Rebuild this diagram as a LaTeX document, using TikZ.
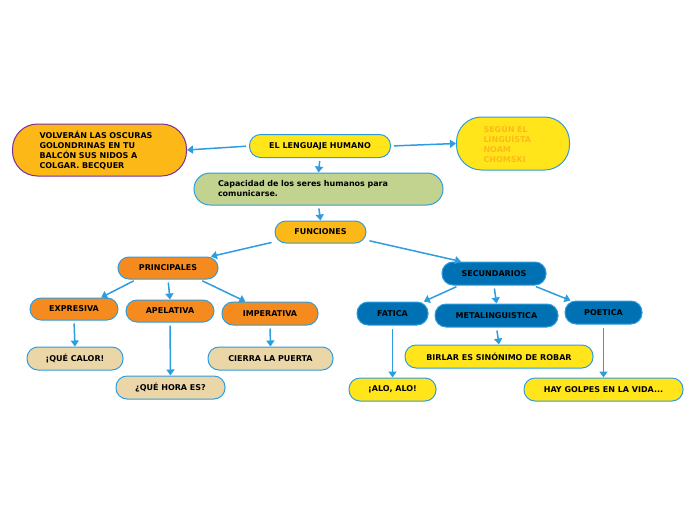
\documentclass[tikz,border=0pt]{standalone}
\usepackage{fontspec}
\setmainfont{DejaVu Sans}
\usetikzlibrary{arrows.meta,positioning}
\definecolor{linkblue}{HTML}{2E9DE0}
\definecolor{goldfill}{HTML}{FCB817}
\definecolor{orangefill}{HTML}{F58B1F}
\definecolor{bluefill}{HTML}{0071B2}
\definecolor{yellowfill}{HTML}{FFE51A}
\definecolor{beigefill}{HTML}{EBD6A8}
\definecolor{greenfill}{HTML}{C2D390}
\definecolor{purpleline}{HTML}{7A2E9E}
\definecolor{softorange}{HTML}{FFB81C}

\begin{document}
\begin{tikzpicture}[x=1pt, y=-1pt,
    every node/.style={font=\fontsize{8}{10}\selectfont\bfseries},
    idea/.style={draw=linkblue, line width=1pt, rounded corners=11pt, minimum height=23pt, inner xsep=6pt},
    big/.style={idea, rounded corners=25pt, align=left, inner xsep=27pt},
    link/.style={draw=linkblue, line width=1.5pt, shorten <=3pt, -{Triangle[width=8pt,length=6pt]}}]
    \useasboundingbox (0,0) rectangle (696,520);

    % central nodes
    \node [idea, fill=yellowfill, minimum width=141pt] (humano) at (320,146) {EL LENGUAJE HUMANO};
    \node [big, fill=goldfill, draw=purpleline, text width=120pt, minimum height=52pt] (volveran) at (99.5,150)
        {VOLVERÁN LAS OSCURAS\\GOLONDRINAS EN TU\\BALCÓN SUS NIDOS A\\COLGAR. BECQUER};
    \node [big, fill=yellowfill, text=softorange, text width=59pt, minimum height=53pt] (segun) at (513,143.5)
        {SEGÚN EL\\LINGUÍSTA\\NOAM\\CHOMSKI};
    \node [big, fill=greenfill, rounded corners=16pt, inner xsep=24pt, text width=201pt, minimum height=32pt] (capacidad) at (318.5,189)
        {Capacidad de los seres humanos para\\comunicarse.};
    \node [idea, fill=goldfill, minimum width=91pt, minimum height=22pt] (funciones) at (320.5,232) {FUNCIONES};

    % principales
    \node [idea, fill=orangefill, minimum width=100pt, minimum height=22pt] (principales) at (168,268) {PRINCIPALES};
    \node [idea, fill=orangefill, minimum width=88pt, minimum height=22pt] (expresiva) at (74,309) {EXPRESIVA};
    \node [idea, fill=orangefill, minimum width=88pt, minimum height=22pt] (apelativa) at (170,311) {APELATIVA};
    \node [idea, fill=orangefill, minimum width=96pt] (imperativa) at (270,313.5) {IMPERATIVA};
    \node [idea, fill=beigefill, minimum width=96pt] (calor) at (75,358.5) {¡QUÉ CALOR!};
    \node [idea, fill=beigefill, minimum width=125pt] (puerta) at (270.5,358.5) {CIERRA LA PUERTA};
    \node [idea, fill=beigefill, minimum width=109pt] (hora) at (170.5,387.5) {¿QUÉ HORA ES?};

    % secundarios
    \node [idea, fill=bluefill, minimum width=104pt] (secundarios) at (494,273.5) {SECUNDARIOS};
    \node [idea, fill=bluefill, minimum width=71pt] (fatica) at (392.5,313.5) {FATICA};
    \node [idea, fill=bluefill, minimum width=123pt] (metaling) at (496.5,315.5) {METALINGUISTICA};
    \node [idea, fill=bluefill, minimum width=77pt] (poetica) at (603.5,312.5) {POETICA};
    \node [idea, fill=yellowfill, minimum width=188pt] (birlar) at (499,356.5) {BIRLAR ES SINÓNIMO DE ROBAR};
    \node [idea, fill=yellowfill, minimum width=87pt] (alo) at (392.5,389.5) {¡ALO, ALO!};
    \node [idea, fill=yellowfill, minimum width=159pt] (golpes) at (603.5,389.5) {HAY GOLPES EN LA VIDA...};

    % connectors
    \draw [link] (humano.west) -- (volveran.east);
    \draw [link] (humano.east) -- (segun.west);
    \draw [link] (humano.south) -- (capacidad.north);
    \draw [link] (capacidad.south) -- (funciones.north);
    \draw [link] (funciones.192) -- (principales.15);
    \draw [link] (funciones.-10) -- (secundarios.160);
    \draw [link] (principales.200) -- (expresiva.23);
    \draw [link] (principales.south) -- (apelativa.north);
    \draw [link] (principales.-20) -- (imperativa.154);
    \draw [link] (secundarios.199) -- (fatica.21);
    \draw [link] (secundarios.south) -- (metaling.north);
    \draw [link] (secundarios.-17) -- (poetica.160);
    \draw [link] (expresiva.south) -- (calor.north);
    \draw [link] (apelativa.south) -- (hora.north);
    \draw [link] (imperativa.south) -- (puerta.north);
    \draw [link] (fatica.south) -- (alo.north);
    \draw [link] (metaling.south) -- (birlar.north);
    \draw [link] (poetica.south) -- (golpes.north);
\end{tikzpicture}
\end{document}
